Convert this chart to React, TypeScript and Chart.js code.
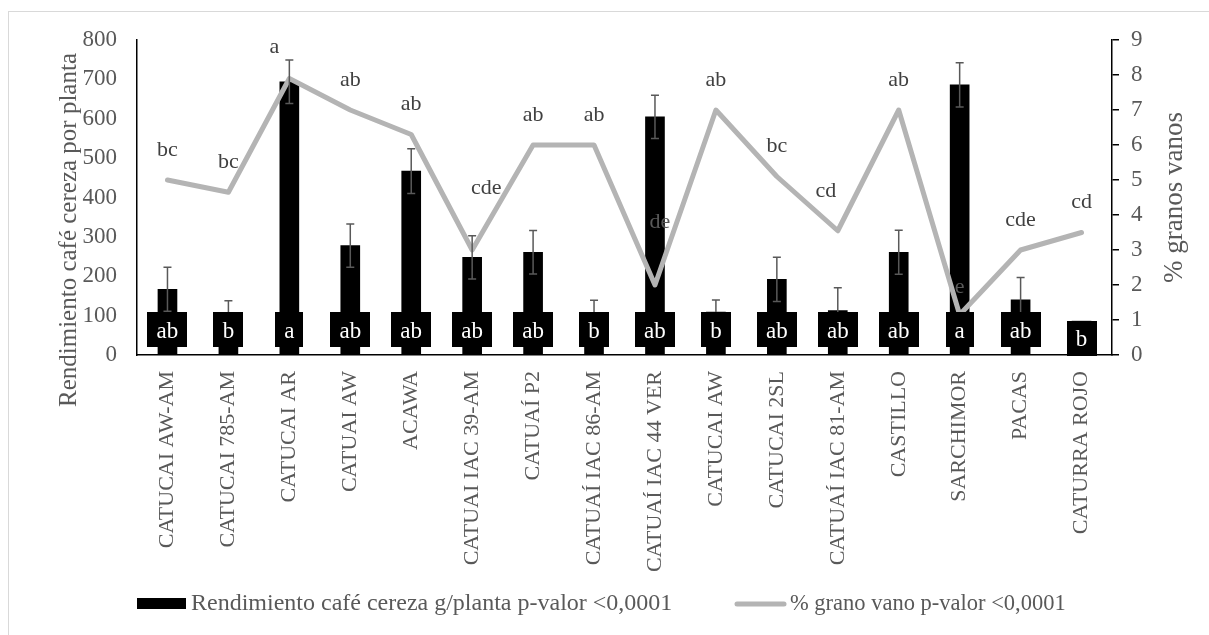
import React, { useEffect, useRef } from "react";
import { Chart, registerables } from "chart.js";

Chart.register(...registerables);

const categories = [
  "CATUCAI AW-AM",
  "CATUCAI 785-AM",
  "CATUCAI AR",
  "CATUAI AW",
  "ACAWA",
  "CATUAI IAC 39-AM",
  "CATUAÍ P2",
  "CATUAÍ IAC 86-AM",
  "CATUAÍ IAC 44 VER",
  "CATUCAI AW",
  "CATUCAI 2SL",
  "CATUAÍ IAC 81-AM",
  "CASTILLO",
  "SARCHIMOR",
  "PACAS",
  "CATURRA ROJO",
];

const yieldValues = [167, 108, 694, 278, 467, 248, 261, 108, 605, 109, 192, 113, 261, 686, 140, 86];
const yieldErrors = [56, 30, 55, 55, 57, 55, 55, 31, 55, 31, 56, 58, 56, 56, 57, 0];
const yieldLetters = ["ab", "b", "a", "ab", "ab", "ab", "ab", "b", "ab", "b", "ab", "ab", "ab", "a", "ab", "b"];

const emptyGrainPct = [5.0, 4.65, 7.9, 7.0, 6.3, 3.0, 6.0, 6.0, 2.0, 7.0, 5.1, 3.55, 7.0, 1.15, 3.0, 3.5];
const emptyGrainLetters = ["bc", "bc", "a", "ab", "ab", "cde", "ab", "ab", "de", "ab", "bc", "cd", "ab", "e", "cde", "cd"];

const leftAxisMax = 800;
const leftAxisStep = 100;
const rightAxisMax = 9;
const rightAxisStep = 1;

const yieldLegend = "Rendimiento café cereza g/planta p-valor <0,0001";
const grainLegend = "% grano vano p-valor <0,0001";
const leftTitle = "Rendimiento café cereza por planta";
const rightTitle = "% granos vanos";

// layout-only nudges for the letter labels above the line (pixels)
const letterNudge: Record<number, { dx: number; dy: number; color?: string }> = {
  2: { dx: -15, dy: 31 },
  5: { dx: 14, dy: 62 },
  8: { dx: 5, dy: 63, color: "#595959" },
  11: { dx: -12, dy: 40 },
  13: { dx: 0, dy: 28, color: "#595959" },
};

const FONT = "'Liberation Serif', 'Times New Roman', serif";
const GRAY_TEXT = "#595959";
const LINE_GRAY = "#b4b4b4";

const overlayPlugin = {
  id: "overlayPlugin",
  beforeDraw(chart: any) {
    const ctx = chart.ctx;
    ctx.save();
    ctx.strokeStyle = "#d9d9d9";
    ctx.lineWidth = 1;
    ctx.strokeRect(8.5, 11.5, 1400, 800);
    ctx.restore();
  },
  afterDatasetsDraw(chart: any) {
    const ctx = chart.ctx;
    const y = chart.scales.y;
    const barMeta = chart.getDatasetMeta(0);
    const lineMeta = chart.getDatasetMeta(1);
    ctx.save();
    // error bars
    ctx.strokeStyle = "#595959";
    ctx.lineWidth = 1.5;
    barMeta.data.forEach((el: any, i: number) => {
      const e = yieldErrors[i];
      if (!e) return;
      const x = el.x;
      const top = y.getPixelForValue(yieldValues[i] + e);
      const bot = y.getPixelForValue(yieldValues[i] - e);
      ctx.beginPath();
      ctx.moveTo(x, top);
      ctx.lineTo(x, bot);
      ctx.moveTo(x - 4, top);
      ctx.lineTo(x + 4, top);
      ctx.moveTo(x - 4, bot);
      ctx.lineTo(x + 4, bot);
      ctx.stroke();
    });
    // letter labels above the line
    ctx.font = `22px ${FONT}`;
    ctx.textAlign = "center";
    ctx.textBaseline = "middle";
    lineMeta.data.forEach((pt: any, i: number) => {
      const n = letterNudge[i] || { dx: 0, dy: 30 };
      ctx.fillStyle = n.color || "#404040";
      ctx.fillText(emptyGrainLetters[i], pt.x + n.dx, pt.y - n.dy);
    });
    // boxed labels at bar base (inside base)
    ctx.font = `23px ${FONT}`;
    const base = y.getPixelForValue(0);
    const h = 35;
    barMeta.data.forEach((el: any, i: number) => {
      const barTop = y.getPixelForValue(yieldValues[i]);
      const barH = base - barTop;
      const cy = barH >= h ? base - 8 - h / 2 : base - barH / 2;
      const tw = ctx.measureText(yieldLetters[i]).width;
      const w = Math.round(tw + 18);
      ctx.fillStyle = "#000";
      ctx.fillRect(Math.round(el.x - w / 2), Math.round(cy - h / 2), w, h);
      ctx.fillStyle = "#fff";
      ctx.fillText(yieldLetters[i], el.x, cy + 2);
    });
    ctx.restore();
  },
  afterDraw(chart: any) {
    const ctx = chart.ctx;
    const area = chart.chartArea;
    ctx.save();
    ctx.fillStyle = GRAY_TEXT;
    ctx.textAlign = "center";
    ctx.textBaseline = "middle";
    // axis titles
    ctx.font = `25px ${FONT}`;
    ctx.save();
    ctx.translate(69, 230);
    ctx.rotate(-Math.PI / 2);
    ctx.fillText(leftTitle, 0, 0);
    ctx.restore();
    ctx.font = `27px ${FONT}`;
    ctx.save();
    ctx.translate(1175, (area.top + area.bottom) / 2);
    ctx.rotate(-Math.PI / 2);
    ctx.fillText(rightTitle, 0, 0);
    ctx.restore();
    // legend
    const ly = 604;
    ctx.fillStyle = "#000";
    ctx.fillRect(137, 598, 49, 11);
    ctx.textAlign = "left";
    ctx.fillStyle = GRAY_TEXT;
    ctx.font = `24px ${FONT}`;
    ctx.fillText(yieldLegend, 191, ly);
    ctx.strokeStyle = LINE_GRAY;
    ctx.lineWidth = 5;
    ctx.lineCap = "round";
    ctx.beginPath();
    ctx.moveTo(737, ly);
    ctx.lineTo(784, ly);
    ctx.stroke();
    ctx.font = `22.5px ${FONT}`;
    ctx.fillText(grainLegend, 790, ly);
    ctx.restore();
  },
};

export default function App() {
  const canvasRef = useRef<HTMLCanvasElement | null>(null);

  useEffect(() => {
    if (!canvasRef.current) return;
    Chart.defaults.font.family = FONT;
    const chart = new Chart(canvasRef.current, {
      type: "bar",
      data: {
        labels: categories,
        datasets: [
          {
            type: "bar",
            label: yieldLegend,
            data: yieldValues,
            backgroundColor: "#000000",
            barThickness: 19,
            yAxisID: "y",
            order: 1,
          },
          {
            type: "line",
            label: grainLegend,
            data: emptyGrainPct,
            borderColor: LINE_GRAY,
            backgroundColor: LINE_GRAY,
            borderWidth: 5,
            pointRadius: 0,
            tension: 0,
            borderCapStyle: "round",
            borderJoinStyle: "round",
            yAxisID: "y1",
            order: 0,
          } as any,
        ],
      },
      options: {
        animation: false,
        responsive: true,
        maintainAspectRatio: false,
        layout: { padding: { top: 40, left: 0, right: 0, bottom: 0 } },
        plugins: {
          legend: { display: false },
          tooltip: { enabled: false },
          title: { display: false },
        },
        scales: {
          x: {
            grid: { display: false, drawTicks: false },
            border: { display: true, color: "#000", width: 1.5 },
            ticks: {
              autoSkip: false,
              maxRotation: 90,
              minRotation: 90,
              padding: 16,
              color: GRAY_TEXT,
              font: { size: 22, family: FONT },
            },
            afterFit: (s: any) => {
              s.height = 280;
            },
          },
          y: {
            position: "left",
            min: 0,
            max: leftAxisMax,
            grid: { display: false, drawTicks: false },
            border: { display: true, color: "#000", width: 1.5 },
            ticks: {
              stepSize: leftAxisStep,
              padding: 20,
              color: GRAY_TEXT,
              font: { size: 23, family: FONT },
            },
            afterFit: (s: any) => {
              s.width = 137;
            },
          },
          y1: {
            position: "right",
            min: 0,
            max: rightAxisMax,
            grid: {
              display: true,
              drawOnChartArea: false,
              drawTicks: true,
              tickLength: 7,
              color: "#000",
              lineWidth: 1.5,
            },
            border: { display: true, color: "#000", width: 1.5 },
            ticks: {
              stepSize: rightAxisStep,
              padding: 12,
              color: GRAY_TEXT,
              font: { size: 23, family: FONT },
            },
            afterFit: (s: any) => {
              s.width = 97;
            },
          },
        },
      },
      plugins: [overlayPlugin],
    });
    return () => chart.destroy();
  }, []);

  return (
    <div style={{ position: "absolute", left: 0, top: 0, width: 1209, height: 635, background: "#fff" }}>
      <canvas ref={canvasRef} />
    </div>
  );
}
